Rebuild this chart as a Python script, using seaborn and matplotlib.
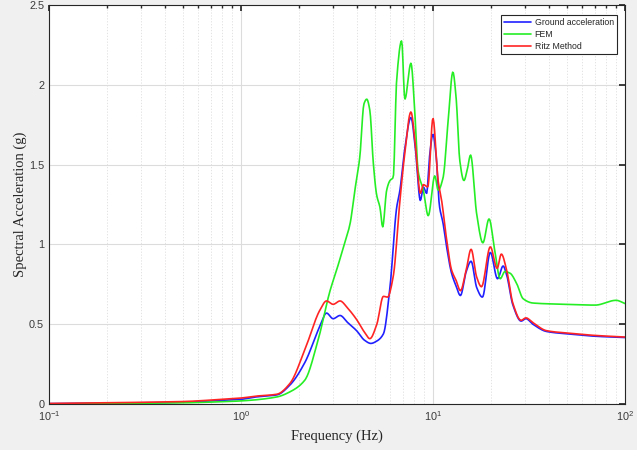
import numpy as np
import pandas as pd
import matplotlib
matplotlib.use("Agg")
import matplotlib.pyplot as plt
import seaborn as sns
from matplotlib.ticker import LogLocator, NullFormatter, FixedLocator

sns.set_theme(style="white")
plt.rcParams['font.family'] = ['Liberation Sans', 'DejaVu Sans']

# ---- data ----
freq_ground = [0.1, 0.2, 0.3, 0.5, 0.8, 1.0, 1.2, 1.54, 1.8, 2.15, 2.58, 2.79, 3.02, 3.28, 3.6, 4.0, 4.4, 4.75,
               5.1, 5.52, 5.97, 6.47, 6.73, 7.1, 7.68, 8.1, 8.6, 8.91, 9.27, 9.6, 10.0, 10.4, 10.8, 11.3, 11.8,
               12.5, 13.2, 13.9, 14.9, 15.8, 16.9, 18.1, 19.9, 21.7, 23.2, 24.2, 26.1, 28.8, 30.5, 33.2,
               39.0, 50.0, 70.0, 100.0]
sa_ground = [0.003, 0.006, 0.008, 0.012, 0.024, 0.03, 0.045, 0.058, 0.12, 0.26, 0.49, 0.57, 0.535, 0.555, 0.51,
             0.46, 0.40, 0.38, 0.395, 0.44, 0.73, 1.23, 1.34, 1.58, 1.795, 1.60, 1.275, 1.36, 1.32, 1.55, 1.69,
             1.55, 1.245, 1.13, 0.98, 0.82, 0.74, 0.68, 0.83, 0.895, 0.73, 0.67, 0.95, 0.785, 0.865, 0.81,
             0.62, 0.52, 0.535, 0.50, 0.455, 0.44, 0.425, 0.417]

freq_ritz = [0.1, 0.2, 0.3, 0.5, 0.8, 1.0, 1.2, 1.54, 1.8, 2.15, 2.58, 2.79, 3.02, 3.28, 3.6, 4.0, 4.4, 4.69,
             5.1, 5.52, 5.8, 6.21, 6.73, 7.1, 7.68, 8.1, 8.6, 8.91, 9.4, 10.0, 10.64, 11.1, 11.8, 12.5, 13.2,
             13.9, 14.9, 15.8, 16.9, 17.9, 19.9, 21.6, 22.7, 24.2, 26.1, 28.8, 30.5, 33.2, 39.0, 50.0, 70.0,
             100.0]
sa_ritz = [0.004, 0.008, 0.011, 0.016, 0.03, 0.038, 0.05, 0.062, 0.13, 0.34, 0.59, 0.646, 0.625, 0.646, 0.60,
           0.53, 0.45, 0.41, 0.50, 0.675, 0.67, 0.80, 1.275, 1.55, 1.83, 1.62, 1.32, 1.375, 1.36, 1.79, 1.40,
           1.275, 1.025, 0.84, 0.775, 0.71, 0.84, 0.97, 0.795, 0.735, 0.985, 0.85, 0.94, 0.84, 0.63, 0.525,
           0.54, 0.51, 0.46, 0.445, 0.43, 0.42]

freq_fem = [0.1, 0.2, 0.3, 0.5, 0.8, 1.0, 1.54, 1.8, 2.15, 2.52, 2.91, 3.15, 3.41, 3.7, 3.92, 4.16, 4.37, 4.52,
            4.69, 4.89, 5.09, 5.3, 5.47, 5.74, 5.97, 6.21, 6.47, 6.87, 7.14, 7.68, 8.05, 8.37, 8.91, 9.45,
            10.23, 10.64, 11.3, 12.0, 12.7, 13.2, 13.8, 14.5, 15.1, 15.7, 16.9, 18.2, 19.6, 21.0, 22.4,
            23.7, 25.2, 27.3, 29.5, 33.2, 50.0, 70.0, 90.0, 100.0]
sa_fem = [0.001, 0.003, 0.005, 0.008, 0.015, 0.02, 0.045, 0.077, 0.15, 0.40, 0.71, 0.84, 0.98, 1.13, 1.34,
          1.55, 1.88, 1.91, 1.84, 1.51, 1.31, 1.23, 1.11, 1.34, 1.40, 1.42, 2.03, 2.275, 1.91, 2.135, 1.82,
          1.46, 1.34, 1.18, 1.43, 1.34, 1.42, 1.775, 2.08, 1.92, 1.525, 1.40, 1.47, 1.56, 1.19, 1.01, 1.16,
          0.96, 0.785, 0.83, 0.82, 0.755, 0.66, 0.633, 0.625, 0.62, 0.65, 0.63]

yticks = [0, 0.5, 1, 1.5, 2, 2.5]
ytick_labels = ["0", "0.5", "1", "1.5", "2", "2.5"]


def pchip(f, v, n=800):
    x = np.log10(np.asarray(f, float)); y = np.asarray(v, float)
    h = np.diff(x); d = np.diff(y) / h
    m = np.zeros_like(y)
    for k in range(1, len(y) - 1):
        if d[k - 1] * d[k] > 0:
            w1 = 2 * h[k] + h[k - 1]; w2 = h[k] + 2 * h[k - 1]
            m[k] = (w1 + w2) / (w1 / d[k - 1] + w2 / d[k])
    m[0] = d[0]; m[-1] = d[-1]
    grid = np.linspace(x[0], x[-1], n)
    k = np.clip(np.searchsorted(x, grid) - 1, 0, len(x) - 2)
    t = (grid - x[k]) / h[k]
    h00 = 2*t**3 - 3*t**2 + 1; h10 = t**3 - 2*t**2 + t
    h01 = -2*t**3 + 3*t**2; h11 = t**3 - t**2
    out = h00*y[k] + h10*h[k]*m[k] + h01*y[k+1] + h11*h[k]*m[k+1]
    return 10**grid, out


fig = plt.figure(figsize=(6.37, 4.5), dpi=100, facecolor='#f0f0f0')
ax = fig.add_axes([0.077, 0.102, 0.904, 0.887])
ax.set_facecolor('white')

series = [("Ground acceleration", freq_ground, sa_ground, '#2020ff'),
          ("FEM", freq_fem, sa_fem, '#25ee25'),
          ("Ritz Method", freq_ritz, sa_ritz, '#ff2424')]
frames = []
for name, f, v, c in series:
    fx, vy = pchip(f, v)
    frames.append(pd.DataFrame({"Frequency": fx, "SA": vy, "Series": name}))
df = pd.concat(frames, ignore_index=True)
palette = {name: c for name, _, _, c in series}
sns.lineplot(data=df, x="Frequency", y="SA", hue="Series", palette=palette, ax=ax,
             linewidth=1.2, estimator=None, sort=False)

ax.set_xscale('log')
ax.set_xlim(0.1, 100)
ax.set_ylim(0, 2.5)
ax.yaxis.set_major_locator(FixedLocator(yticks))
ax.set_yticklabels(ytick_labels)
ax.xaxis.set_major_locator(LogLocator(base=10, numticks=10))
ax.xaxis.set_minor_locator(LogLocator(base=10, subs=np.arange(2, 10), numticks=20))
ax.xaxis.set_minor_formatter(NullFormatter())

ax.grid(True, which='major', color='#dcdcdc', linewidth=0.8, linestyle='-')
ax.grid(True, which='minor', axis='x', color='#dedede', linewidth=0.6, linestyle=(0, (1.5, 2)))
ax.set_axisbelow(True)

for s in ax.spines.values():
    s.set_color('#262626')
    s.set_linewidth(0.8)
    s.set_visible(True)
ax.tick_params(which='both', direction='in', top=True, right=True, colors='#262626',
               labelcolor='#3a3a3a', labelsize=7.8)
ax.tick_params(which='major', length=4)
ax.tick_params(which='minor', length=2.5)

ax.set_xlabel("Frequency (Hz)", fontfamily='Liberation Serif', fontsize=10.5, color='#262626', labelpad=5)
ax.set_ylabel("Spectral Acceleration (g)", fontfamily='Liberation Serif', fontsize=10.5, color='#262626',
              labelpad=1.5)

leg = ax.legend(loc='upper right', fontsize=6.3, frameon=True, fancybox=False, edgecolor='#262626',
                framealpha=1, borderaxespad=0.0, bbox_to_anchor=(0.986, 0.976), handlelength=3.1,
                handletextpad=0.4, borderpad=0.35, labelspacing=0.35)
leg.get_frame().set_linewidth(0.8)
leg.set_title(None)

fig.savefig("out.png", dpi=100, facecolor=fig.get_facecolor())
